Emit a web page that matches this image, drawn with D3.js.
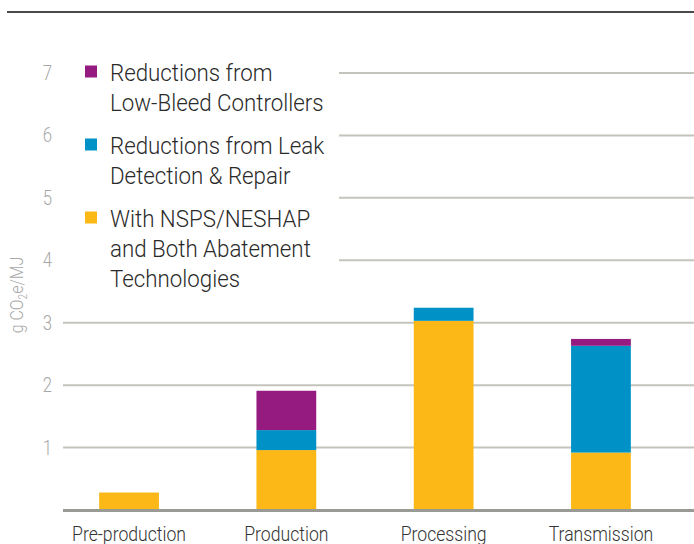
<!DOCTYPE html>
<html><head><meta charset="utf-8">
<script src="https://cdn.jsdelivr.net/npm/d3@7"></script>
<style>
body{margin:0;background:#fff;}
svg{display:block;}
</style></head>
<body>
<script>
const categories = ["Pre-production","Production","Processing","Transmission"];
const seriesNames = ["With NSPS/NESHAP and Both Abatement Technologies","Reductions from Leak Detection & Repair","Reductions from Low-Bleed Controllers"];
const withNSPS = [0.28, 0.96, 3.03, 0.92];
const leakDetection = [0, 0.32, 0.21, 1.71];
const lowBleed = [0, 0.63, 0, 0.11];
const yTicks = [1,2,3,4,5,6,7];
const colors = ["#fbb817","#0092c7","#951b81"];
const legendItems = [
  {lines:["Reductions from","Low-Bleed Controllers"], color:colors[2]},
  {lines:["Reductions from Leak","Detection & Repair"], color:colors[1]},
  {lines:["With NSPS/NESHAP","and Both Abatement","Technologies"], color:colors[0]}
];

const W=694,H=544;
const font = "Roboto, 'Noto Sans', sans-serif";
const svg = d3.select("body").append("svg").attr("width",W).attr("height",H);

const y = d3.scaleLinear().domain([0,7]).range([510,73]);
const x = d3.scaleBand().domain(categories).range([50.4,679.6]).paddingInner(0.62).paddingOuter(0.31);

function ctext(g, px, py, anchor, size, fill, weight, sx){
  return g.append("text").attr("transform",`translate(${px},${py}) scale(${sx||0.84},1)`)
    .attr("text-anchor",anchor).attr("font-family",font).attr("font-size",size)
    .attr("font-weight",weight||300).attr("fill",fill);
}

// top rule
svg.append("line").attr("x1",7).attr("x2",W).attr("y1",12).attr("y2",12)
  .attr("stroke","#4a4a4a").attr("stroke-width",2);

// gridlines
svg.append("g").selectAll("line").data(yTicks).join("line")
  .attr("x1",63).attr("x2",W).attr("y1",d=>y(d)).attr("y2",d=>y(d))
  .attr("stroke","#c4c4bc").attr("stroke-width",2);

// tick labels
const tg = svg.append("g");
yTicks.forEach(d=>ctext(tg,52,y(d)+7,"end",20,"#a8a8a8").text(d));

// y label
const yl = svg.append("text").attr("transform","translate(23,295) rotate(-90) scale(0.84,1)")
  .attr("text-anchor","middle").attr("font-family",font).attr("font-weight",300).attr("font-size",19).attr("fill","#a8a8a8");
yl.append("tspan").text("g CO");
yl.append("tspan").attr("font-size",12).attr("dy",4).text("2");
yl.append("tspan").attr("dy",-4).text("e/MJ");

// stacked bars
const data = categories.map((c,i)=>({cat:c, s0:withNSPS[i], s1:leakDetection[i], s2:lowBleed[i]}));
const stack = d3.stack().keys(["s0","s1","s2"])(data);
svg.append("g").selectAll("g").data(stack).join("g").attr("fill",(d,i)=>colors[i])
  .selectAll("rect").data(d=>d.filter(v=>v[1]-v[0]>0)).join("rect")
  .attr("x",d=>x(d.data.cat)).attr("width",x.bandwidth())
  .attr("y",d=>y(d[1])).attr("height",d=>y(d[0])-y(d[1]));

// baseline
svg.append("line").attr("x1",63).attr("x2",W).attr("y1",y(0)+0.5).attr("y2",y(0)+0.5)
  .attr("stroke","#9a9a94").attr("stroke-width",3);

// category labels
const cg = svg.append("g");
categories.forEach(c=>ctext(cg,x(c)+x.bandwidth()/2,541,"middle",21,"#333").text(c));

// legend
svg.append("rect").attr("x",62).attr("y",50).attr("width",277).attr("height",250).attr("fill","#fff");
const lg = svg.append("g");
const startY = [81,154,227];
legendItems.forEach((it,i)=>{
  lg.append("rect").attr("x",85).attr("y",startY[i]-15.5).attr("width",12).attr("height",12).attr("fill",it.color);
  it.lines.forEach((l,j)=>ctext(lg,110,startY[i]+j*30,"start",24,"#2a2a2a",300,0.93).text(l));
});
</script>
</body></html>
